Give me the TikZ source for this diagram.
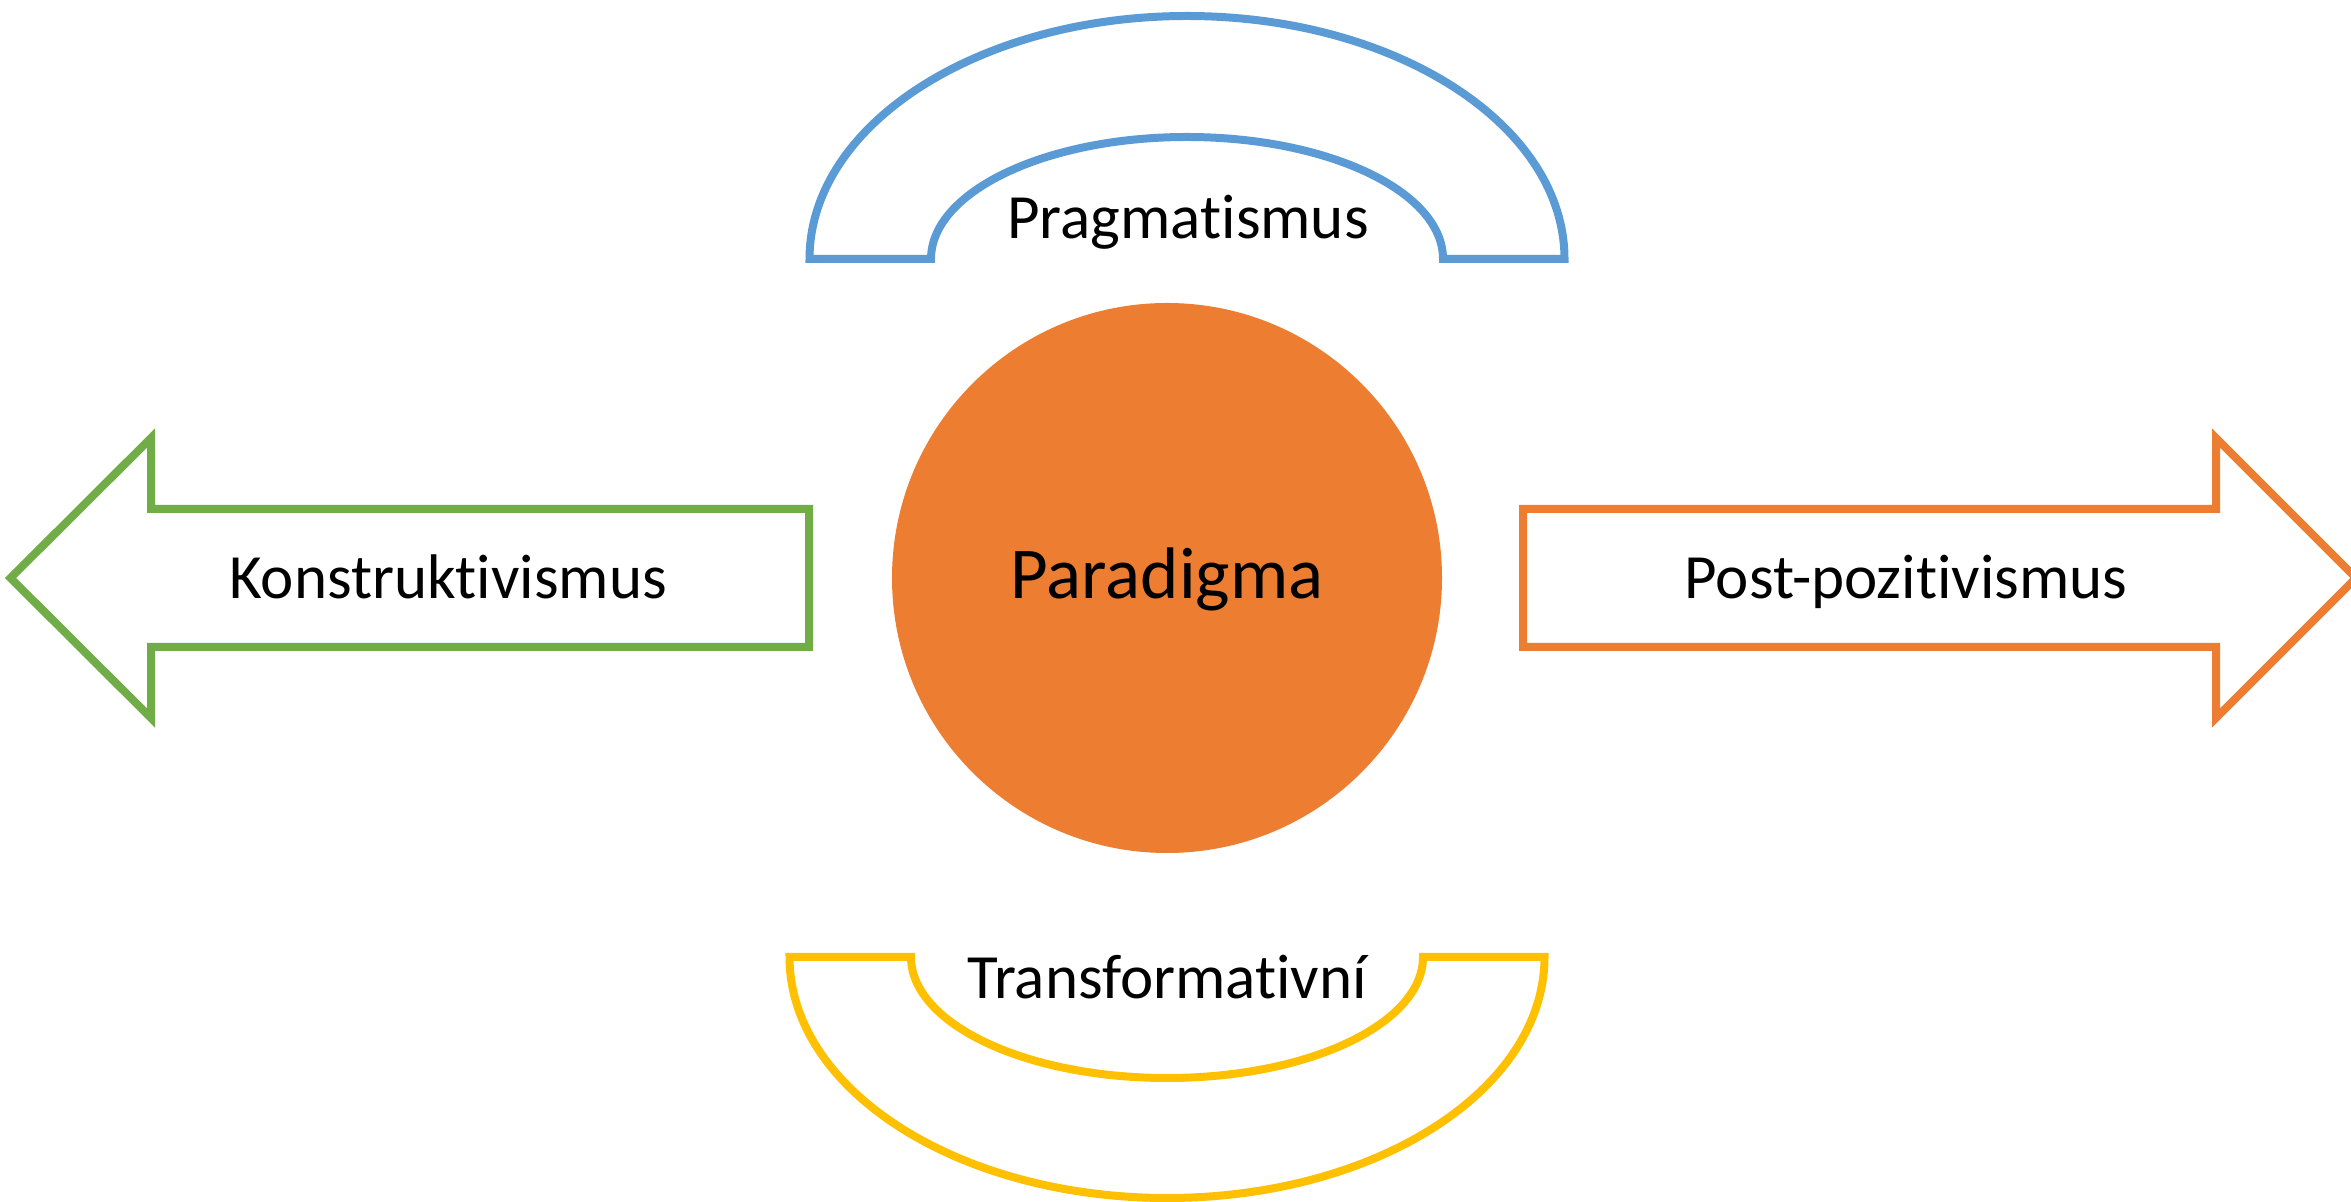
\documentclass[tikz,border=0pt]{standalone}
\usepackage{fontspec}
\setmainfont{Carlito}[Ligatures=NoCommon]
\definecolor{cblue}{HTML}{5B9BD5}
\definecolor{corange}{HTML}{ED7D31}
\definecolor{cgreen}{HTML}{70AD47}
\definecolor{cgold}{HTML}{FFC000}
\begin{document}
\begin{tikzpicture}[x=1pt,y=1pt,
  outline/.style={line width=8pt,line join=miter,fill=white},
  lbl/.style={anchor=base,inner sep=0pt,text=black,font=\fontsize{63}{75}\selectfont},
  biglbl/.style={anchor=base,inner sep=0pt,text=black,font=\fontsize{73}{87}\selectfont}]
\useasboundingbox (0,0) rectangle (2351,1202);
% top block arc (Pragmatismus)
\draw[outline,draw=cblue] (809.5,943) arc[start angle=180,end angle=0,x radius=377.5,y radius=243]
  -- (1443,943) arc[start angle=0,end angle=180,x radius=256,y radius=122] -- cycle;
% bottom block arc (Transformativni)
\draw[outline,draw=cgold] (789.5,245) arc[start angle=180,end angle=360,x radius=377.5,y radius=241]
  -- (1423,245) arc[start angle=0,end angle=-180,x radius=256,y radius=121] -- cycle;
% left arrow
\draw[outline,draw=cgreen] (10.5,624) -- (151,764) -- (151,693) -- (809,693) -- (809,555)
  -- (151,555) -- (151,484) -- cycle;
% right arrow
\draw[outline,draw=corange] (1523,693) -- (2216,693) -- (2216,764) -- (2356,624) -- (2216,484)
  -- (2216,555) -- (1523,555) -- cycle;
% circle
\node[circle,fill=corange,draw=none,minimum size=550pt,inner sep=0pt] (circ) at (1167,624) {};
% labels
\node[biglbl] (para) at (1167,603) {Paradigma};
\node[lbl] (prag) at (1188,963) {Pragmatismus};
\node[lbl] (trans) at (1167,203) {Transformativní};
\node[lbl] (konst) at (448,603) {Konstruktivismus};
\node[lbl] (post) at (1906,603) {Post-pozitivismus};
\end{tikzpicture}
\end{document}
